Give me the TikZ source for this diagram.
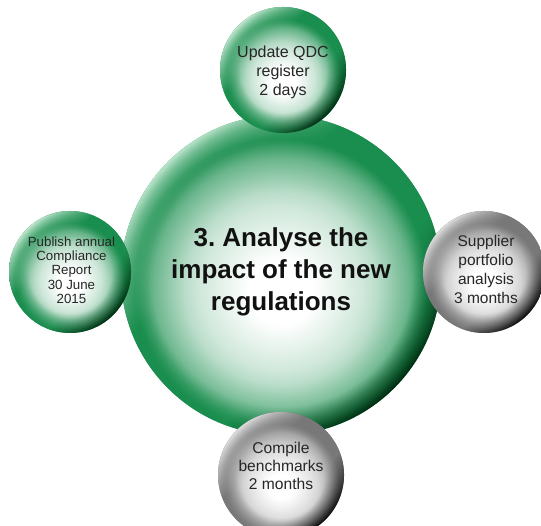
\documentclass[tikz,border=0pt]{standalone}
\usepackage{fontspec}
\setmainfont{Liberation Sans}
\usetikzlibrary{fadings}
\frenchspacing

\definecolor{ballgreen}{RGB}{26,142,78}
\definecolor{palegreen}{RGB}{190,230,206}
\definecolor{deepgreen}{RGB}{0,38,14}
\definecolor{ballgrey}{RGB}{120,120,120}
\definecolor{palegrey}{RGB}{222,222,222}
\definecolor{deepgrey}{RGB}{6,6,6}
\definecolor{hubink}{RGB}{17,17,17}
\definecolor{leafink}{RGB}{38,38,38}

% sphere bodies: a broad white glow a little below the centre
\pgfdeclareradialshading{greenbody}{\pgfpoint{0bp}{-3bp}}{color(0bp)=(white); color(5bp)=(white); color(12.5bp)=(ballgreen!20!white); color(15bp)=(ballgreen!30!white); color(20bp)=(ballgreen!65!white); color(23bp)=(ballgreen); color(50bp)=(ballgreen)}
% small spheres: the glow sits lower
\pgfdeclareradialshading{greenbead}{\pgfpoint{0bp}{-5bp}}{color(0bp)=(white); color(5bp)=(white); color(12.5bp)=(ballgreen!22!white); color(15bp)=(ballgreen!34!white); color(20bp)=(ballgreen!70!white); color(23bp)=(ballgreen); color(50bp)=(ballgreen)}
\pgfdeclareradialshading{greybead}{\pgfpoint{0bp}{-5bp}}{color(0bp)=(white); color(5bp)=(white); color(12.5bp)=(ballgrey!22!white); color(15bp)=(ballgrey!32!white); color(20bp)=(ballgrey!68!white); color(23bp)=(ballgrey); color(50bp)=(ballgrey)}

% rims: light towards the upper left, dark towards the lower right
\pgfdeclareverticalshading{greenrim}{100bp}{color(0bp)=(deepgreen); color(25bp)=(deepgreen); color(40bp)=(ballgreen); color(60bp)=(ballgreen); color(75bp)=(palegreen); color(100bp)=(palegreen)}
\pgfdeclareverticalshading{greyrim}{100bp}{color(0bp)=(deepgrey); color(25bp)=(deepgrey); color(40bp)=(ballgrey); color(60bp)=(ballgrey); color(75bp)=(palegrey); color(100bp)=(palegrey)}

% masks that keep only a band along the edge
\pgfdeclareradialshading{rimmasknarrow}{\pgfpointorigin}{color(0bp)=(black); color(20.5bp)=(black); color(23.5bp)=(black!40); color(25bp)=(white); color(50bp)=(white)}
\pgfdeclarefading{rimnarrow}{\pgfuseshading{rimmasknarrow}}
\pgfdeclareradialshading{rimmaskwide}{\pgfpointorigin}{color(0bp)=(black); color(17bp)=(black); color(22bp)=(black!40); color(25bp)=(white); color(50bp)=(white)}
\pgfdeclarefading{rimwide}{\pgfuseshading{rimmaskwide}}

\tikzset{
  sphere/.style={circle, inner sep=0pt, outer sep=0pt, draw=none},
  greenhub/.style={sphere, shade, shading=greenbody,
    postaction={shade, shading=greenrim, shading angle=45, path fading=rimnarrow}},
  greensphere/.style={sphere, shade, shading=greenbead,
    postaction={shade, shading=greenrim, shading angle=45, path fading=rimwide}},
  greysphere/.style={sphere, shade, shading=greybead,
    postaction={shade, shading=greyrim, shading angle=45, path fading=rimwide}},
  hubtext/.style={font=\fontsize{26}{32}\selectfont\bfseries, text=hubink, align=center, inner sep=0pt},
  leaftext/.style={font=\fontsize{16}{19}\selectfont, text=leafink, align=center, inner sep=0pt}
}

\begin{document}
\begin{tikzpicture}[x=1pt,y=1pt]
\useasboundingbox (0,0) rectangle (541,526);
\clip (0,0) rectangle (541,526);

% central sphere
\node[greenhub, minimum size=320pt] (hub) at (281,251) {};

% surrounding spheres
\node[greensphere, minimum size=126pt] (top) at (283,456) {};
\node[greensphere, minimum size=122pt] (left) at (70,254) {};
\node[greysphere, minimum size=122pt] (right) at (484,254) {};
\node[greysphere, minimum size=126pt] (bottom) at (281,51) {};

% labels
\node[hubtext] (hubtitle) at (281,254) {3. Analyse the\\impact of the new\\regulations};
\node[leaftext] (qdc) at (283,454) {Update QDC\\register\\2 days};
\node[leaftext, font=\fontsize{15.5}{19}\selectfont] (supplier) at (486,256.5) {Supplier\\portfolio\\analysis\\3 months};
\node[leaftext, font=\fontsize{15.6}{18}\selectfont] (bench) at (281,60.5) {Compile\\benchmarks\\2 months};
\node[leaftext, font=\fontsize{13.3}{14.3}\selectfont] (report) at (71.5,256) {Publish annual\\Compliance\\Report\\30 June\\2015};
\end{tikzpicture}
\end{document}
